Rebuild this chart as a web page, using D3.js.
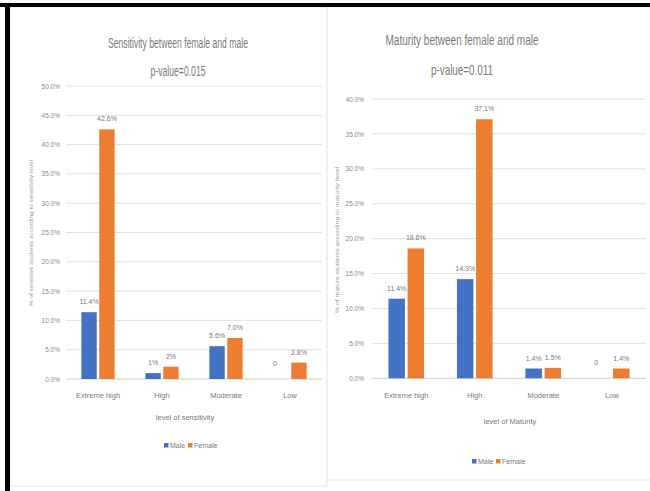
<!DOCTYPE html>
<html><head><meta charset="utf-8">
<script src="https://cdn.jsdelivr.net/npm/d3@7"></script>
<style>
html,body{margin:0;padding:0;background:#fff;}
text{font-family:"Liberation Sans Narrow","Liberation Sans",Arial,sans-serif;fill:#7a7a7a;}
</style></head>
<body><svg id="c" width="650" height="491"></svg>
<script>
const categories = ["Extreme high","High","Moderate","Low"];
const seriesNames = ["Male","Female"];
// Sensitivity chart
const sensMale = [11.4, 1.0, 5.6, 0];
const sensFemale = [42.6, 2.1, 7.0, 2.8];
const sensMaleLabels = ["11.4%","1%","5.6%","0"];
const sensFemaleLabels = ["42.6%","2%","7.0%","2.8%"];
const sensTicks = [0,5,10,15,20,25,30,35,40,45,50];
// Maturity chart
const matMale = [11.4, 14.2, 1.4, 0];
const matFemale = [18.6, 37.1, 1.5, 1.4];
const matMaleLabels = ["11.4%","14.3%","1.4%","0"];
const matFemaleLabels = ["18.6%","37.1%","1.5%","1.4%"];
const matTicks = [0,5,10,15,20,25,30,35,40];

const colors = {Male:"#4472C4", Female:"#ED7D31"};
const svg = d3.select("#c");
svg.append("rect").attr("width",650).attr("height",491).attr("fill","#fff");

// panels
svg.append("rect").attr("x",10).attr("y",7).attr("width",317).attr("height",479).attr("fill","#fff").attr("stroke","#e6e6e6");
svg.append("rect").attr("x",327).attr("y",7).attr("width",323).attr("height",473).attr("fill","#fff").attr("stroke","#e6e6e6");
// black frame
svg.append("rect").attr("x",0).attr("y",3).attr("width",650).attr("height",4).attr("fill","#000");
svg.append("rect").attr("x",5).attr("y",3).attr("width",5).attr("height",488).attr("fill","#000");

function chart(o){
  const g = svg.append("g");
  const x0 = d3.scaleBand().domain(categories).range([o.x0,o.x1]).paddingInner(0.48).paddingOuter(0.24);
  const x1 = d3.scaleBand().domain(seriesNames).range([0,x0.bandwidth()]).paddingInner(0.14);
  const y = d3.scaleLinear().domain([0,o.max]).range([o.yb,o.yt]);
  // gridlines
  g.selectAll("line.grid").data(o.ticks).join("line")
    .attr("x1",o.x0).attr("x2",o.x1).attr("y1",d=>y(d)).attr("y2",d=>y(d))
    .attr("stroke",d=>d===0?"#cfcfcf":"#e2e2e2").attr("stroke-width",1);
  // y axis labels
  const ya = d3.axisLeft(y).tickValues(o.ticks).tickFormat(d=>d3.format(".1f")(d)+"%").tickSize(0).tickPadding(o.tickPad);
  const yg = g.append("g").attr("transform",`translate(${o.x0},0)`).call(ya);
  yg.select(".domain").remove();
  yg.selectAll("text").attr("font-size",6.5).style("fill","#8a8a8a");
  // x axis labels
  const xa = d3.axisBottom(x0).tickSize(0).tickPadding(14);
  const xg = g.append("g").attr("transform",`translate(0,${o.yb})`).call(xa);
  xg.select(".domain").remove();
  xg.selectAll("text").attr("font-size",7.5).style("fill","#7a7a7a");
  // bars
  const rows = categories.map((c,i)=>({c, vals:[
    {s:"Male",v:o.male[i],l:o.maleL[i]},{s:"Female",v:o.female[i],l:o.femaleL[i]}]}));
  const grp = g.selectAll("g.cat").data(rows).join("g").attr("transform",d=>`translate(${x0(d.c)},0)`);
  grp.selectAll("rect").data(d=>d.vals).join("rect")
    .attr("x",d=>x1(d.s)).attr("width",x1.bandwidth())
    .attr("y",d=>y(d.v)).attr("height",d=>y(0)-y(d.v))
    .attr("fill",d=>colors[d.s]);
  grp.selectAll("text").data(d=>d.vals).join("text")
    .attr("x",d=>x1(d.s)+x1.bandwidth()/2 - (d.v===0?6:0))
    .attr("y",d=>d.v===0? y(0)-13 : y(d.v)-8)
    .attr("text-anchor","middle").attr("font-size",7).style("fill","#7a7a7a")
    .text(d=>d.l);
  // titles
  g.append("text").attr("x",o.tx).attr("y",o.ty1).attr("text-anchor","middle").attr("font-size",15)
    .attr("textLength",o.t1len).attr("lengthAdjust","spacingAndGlyphs").style("fill","#7a7a7a").text(o.title1);
  g.append("text").attr("x",o.tx+ (o.t2dx||0)).attr("y",o.ty2).attr("text-anchor","middle").attr("font-size",15)
    .attr("textLength",o.t2len).attr("lengthAdjust","spacingAndGlyphs").style("fill","#7a7a7a").text(o.title2);
  // y axis title
  g.append("text").attr("transform",`translate(${o.ytx},${o.yty}) rotate(-90)`).attr("text-anchor","middle")
    .attr("font-size",6).attr("textLength",146).attr("lengthAdjust","spacingAndGlyphs").style("fill","#9a9a9a").text(o.ytitle);
  // x axis title
  g.append("text").attr("x",o.xtx).attr("y",o.xty).attr("text-anchor","middle").attr("font-size",7.5)
    .style("fill","#7a7a7a").text(o.xtitle);
  // legend
  const lg = g.append("g").attr("transform",`translate(${o.lx},${o.ly})`);
  const items = [{s:"Male",dx:0},{s:"Female",dx:24}];
  items.forEach(it=>{
    lg.append("rect").attr("x",it.dx).attr("y",-5).attr("width",4.5).attr("height",4.5).attr("fill",colors[it.s]);
    lg.append("text").attr("x",it.dx+6).attr("y",0).attr("font-size",7).style("fill","#7a7a7a").text(it.s);
  });
}

chart({x0:66,x1:322,yb:379,yt:86,max:50,ticks:sensTicks,tickPad:6,
  male:sensMale,female:sensFemale,maleL:sensMaleLabels,femaleL:sensFemaleLabels,
  title1:"Sensitivity between female and male",title2:"p-value=0.015",tx:178,ty1:48,ty2:76,t1len:140,t2len:55,
  ytitle:"% of sensitive students according to sensitivity level",ytx:33,yty:233,
  xtitle:"level of sensitivity",xtx:185,xty:420,lx:164,ly:448});

chart({x0:372,x1:646,yb:378.3,yt:99,max:40,ticks:matTicks,tickPad:8,
  male:matMale,female:matFemale,maleL:matMaleLabels,femaleL:matFemaleLabels,
  title1:"Maturity between female and male",title2:"p-value=0.011",tx:462,ty1:45,ty2:75,t1len:153,t2len:62,
  ytitle:"% of mature students according to maturity level",ytx:339,yty:240,
  xtitle:"level of Maturity",xtx:510,xty:424,lx:472,ly:464});
</script></body></html>
